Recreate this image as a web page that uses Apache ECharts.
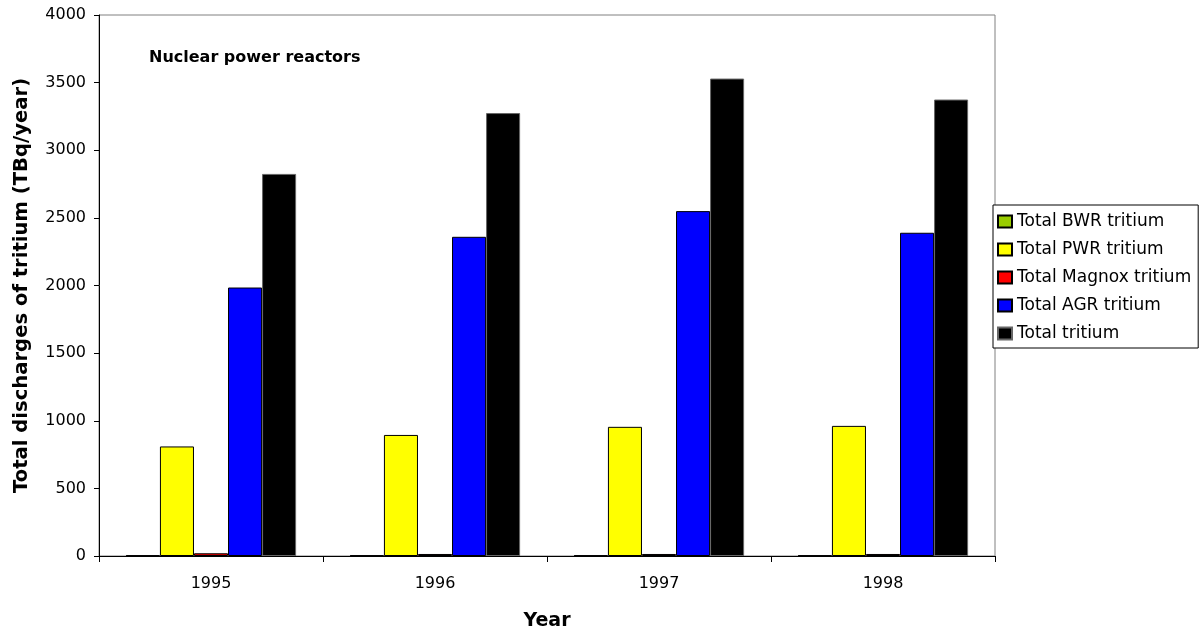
<!DOCTYPE html>
<html>
<head>
<meta charset="utf-8">
<script src="https://cdn.jsdelivr.net/npm/echarts@6/dist/echarts.min.js"></script>
<style>
  html, body { margin: 0; padding: 0; background: #fff; }
  #chart { width: 1200px; height: 634px; }
</style>
</head>
<body>
<div id="chart"></div>
<script>
// Annual tritium discharges from nuclear power reactors (TBq/year)
const years = ['1995', '1996', '1997', '1998'];
const bwrTritium = [5, 5, 5, 5];
const pwrTritium = [810, 895, 955, 962];
const magnoxTritium = [20, 15, 15, 15];
const agrTritium = [1985, 2360, 2550, 2390];
const totalTritium = [2825, 3275, 3530, 3375];
const yTicks = { min: 0, max: 4000, interval: 500 };

const FONT = '"DejaVu Sans", "Liberation Sans", Arial, sans-serif';

function barSeries(name, data, color, border) {
  return {
    name: name,
    type: 'bar',
    data: data,
    barGap: '0%',
    barCategoryGap: '24%',
    itemStyle: { color: color, borderColor: border || '#000', borderWidth: 1 },
    emphasis: { disabled: true }
  };
}

const chart = echarts.init(document.getElementById('chart'), null, { renderer: 'canvas' });
chart.setOption({
  animation: false,
  backgroundColor: '#fff',
  textStyle: { fontFamily: FONT },
  title: {
    text: 'Nuclear power reactors',
    left: 144,
    top: 45,
    textStyle: { fontFamily: FONT, fontSize: 16, fontWeight: 'bold', color: '#000' }
  },
  grid: {
    left: 99, top: 15, right: 205, bottom: 78,
    outerBoundsMode: 'none',
    containLabel: false,
    show: true, borderColor: '#808080', borderWidth: 1, backgroundColor: '#fff'
  },
  legend: {
    orient: 'vertical',
    left: 993,
    top: 205,
    icon: 'rect',
    itemWidth: 14,
    itemHeight: 12,
    itemGap: 11,
    padding: [8, 7, 6, 4],
    borderColor: '#000',
    borderWidth: 1,
    backgroundColor: '#fff',
    textStyle: { fontFamily: FONT, fontSize: 17, color: '#000' },
    data: ['Total BWR tritium', 'Total PWR tritium', 'Total Magnox tritium', 'Total AGR tritium', 'Total tritium']
  },
  xAxis: {
    type: 'category',
    data: years,
    name: 'Year',
    nameLocation: 'middle',
    nameGap: 56,
    nameTextStyle: { fontFamily: FONT, fontSize: 19, fontWeight: 'bold', color: '#000' },
    axisLine: { lineStyle: { color: '#000', width: 1 } },
    axisTick: { show: true, length: 6, lineStyle: { color: '#000' } },
    axisLabel: { fontFamily: FONT, fontSize: 16, color: '#000', margin: 20 },
    splitLine: { show: false }
  },
  yAxis: {
    type: 'value',
    min: yTicks.min,
    max: yTicks.max,
    interval: yTicks.interval,
    name: 'Total discharges of tritium (TBq/year)',
    nameLocation: 'middle',
    nameGap: 67,
    nameTextStyle: { fontFamily: FONT, fontSize: 19.6, fontWeight: 'bold', color: '#000' },
    axisLine: { show: true, lineStyle: { color: '#000', width: 1 } },
    axisTick: { show: true, length: 5, lineStyle: { color: '#000' } },
    axisLabel: {
      fontFamily: FONT, fontSize: 16, color: '#000', margin: 13,
      formatter: function (v) { return String(v); }
    },
    splitLine: { show: false }
  },
  series: [
    barSeries('Total BWR tritium', bwrTritium, '#99CC00'),
    barSeries('Total PWR tritium', pwrTritium, '#FFFF00'),
    barSeries('Total Magnox tritium', magnoxTritium, '#FF0000'),
    barSeries('Total AGR tritium', agrTritium, '#0000FF'),
    barSeries('Total tritium', totalTritium, '#000000', '#666666')
  ]
});
</script>
</body>
</html>
